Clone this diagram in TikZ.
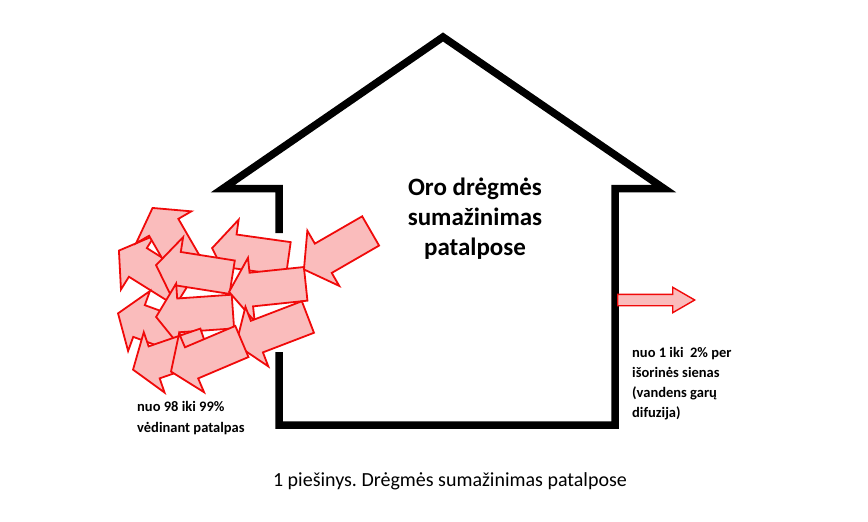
\documentclass[tikz,border=0pt]{standalone}
\usepackage{fontspec}
\setmainfont{Carlito}
\usepackage{tikz}
\usetikzlibrary{shapes.arrows}
\definecolor{flowpink}{RGB}{250,188,188}
\definecolor{flowred}{RGB}{240,10,10}
\frenchspacing

\begin{document}
\begin{tikzpicture}[x=1pt, y=-1pt,
  wall/.style={line width=7.5pt, line join=miter},
  flow/.style={single arrow, draw=flowred, fill=flowpink, line width=1.8pt,
    inner xsep=0pt, inner ysep=16pt, minimum height=77pt,
    single arrow head extend=15pt, single arrow tip angle=110, anchor=tip},
  note/.style={font=\bfseries\fontsize{14.5}{20}\selectfont, align=left,
    anchor=north west, inner sep=0pt}]
  \useasboundingbox (0, 0) rectangle (868, 522);

  \draw[wall] (279, 233) -- (279, 188.5) -- (223, 188.5) -- (443, 37)
    -- (664, 188.5) -- (615, 188.5) -- (615, 425) -- (279, 425) -- (279, 352);

  \node[align=center, font=\bfseries\fontsize{25}{30}\selectfont]
    (room) at (475, 219) {Oro drėgmės\\sumažinimas\\patalpose};

  \node[flow, rotate=148] (a3) at (118, 250) {};
  \node[flow, rotate=120] (a1) at (152, 207) {};
  \node[flow, rotate=160] (a7) at (117, 313) {};
  \node[flow, rotate=172] (a2) at (211, 248) {};
  \node[flow, rotate=171] (a4) at (155, 265) {};
  \node[flow, rotate=184] (a6) at (155, 317) {};
  \node[flow, rotate=186] (a5) at (228, 292) {};
  \node[flow, rotate=201] (a10) at (235, 345) {};
  \node[flow, rotate=199] (a8) at (132, 370) {};
  \node[flow, rotate=203] (a9) at (170, 372) {};
  \node[flow, rotate=210] (a0) at (303, 270) {};

  \node[flow, rotate=0, anchor=tail, inner ysep=5pt, minimum height=77pt,
    single arrow head extend=7pt, single arrow tip angle=60, line width=1.4pt]
    (diff) at (617, 300) {};

  \node[note, font=\bfseries\fontsize{14.5}{21}\selectfont]
    (vent) at (137, 401) {nuo 98 iki 99\%\\vėdinant patalpas};
  \node[note] (walls) at (632, 347)
    {nuo 1 iki\ \ 2\% per\\išorinės sienas\\(vandens garų\\difuzija)};

  \node[anchor=base, font=\fontsize{20}{24}\selectfont]
    (caption) at (450, 486) {1 piešinys. Drėgmės sumažinimas patalpose};
\end{tikzpicture}
\end{document}
